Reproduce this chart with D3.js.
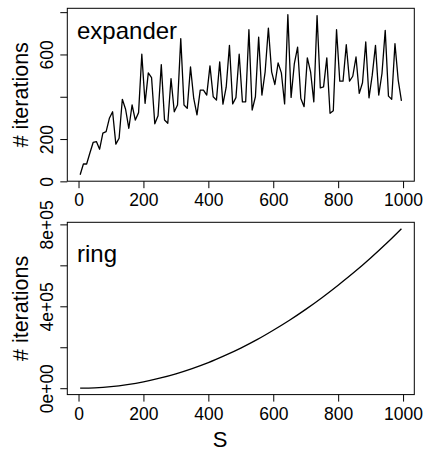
<!DOCTYPE html>
<html>
<head>
<meta charset="utf-8">
<script src="https://cdn.jsdelivr.net/npm/d3@7"></script>
<style>
  body { margin: 0; background: #fff; }
  svg { display: block; font-family: "Liberation Sans", Arial, Helvetica, sans-serif; }
</style>
</head>
<body>
<svg id="chart" width="424" height="452"></svg>
<script>
// Iterations needed per network size S, for two graph families.

// x positions (network size S) of the expander series
var sValues = d3.range(5, 1000, 10);

// expander: # iterations, one per S value
var expanderIters = [
  31, 82, 82, 134, 184, 188, 152, 228, 235, 298,
  329, 176, 204, 388, 341, 251, 361, 290, 325, 601,
  369, 513, 491, 272, 310, 552, 290, 275, 486, 329,
  361, 675, 361, 345, 541, 392, 314, 431, 431, 408,
  546, 400, 384, 565, 365, 445, 643, 366, 396, 601,
  376, 376, 717, 337, 400, 682, 408, 518, 725, 518,
  458, 560, 513, 366, 788, 397, 557, 635, 392, 353,
  584, 518, 376, 784, 442, 447, 584, 322, 334, 717,
  474, 474, 646, 474, 497, 588, 416, 466, 659, 395,
  502, 643, 408, 510, 714, 403, 388, 651, 479, 381
];

// ring: sizes and # iterations
var ringS = [5, 50, 100, 150, 200, 250, 300, 350, 400, 450, 500,
             550, 600, 650, 700, 750, 800, 850, 900, 950, 995];
var ringIters = [0, 2000, 7800, 17600, 31000, 49000, 70500, 96000, 125000, 159000, 196000,
                 237000, 283000, 332000, 385000, 442000, 503000, 567000, 636000, 709000, 779000];

// tick values and labels
var xTicks = [0, 200, 400, 600, 800, 1000];
var expanderYTicks = [0, 200, 400, 600, 800];
var expanderYLabels = ["0", "200", "", "600", ""];
var ringYTicks = [0, 200000, 400000, 600000, 800000];
var ringYLabels = ["0e+00", "", "4e+05", "", "8e+05"];

var svg = d3.select("#chart");
var left = 67.3, right = 414.3;

// R style range: data extent padded by 4% on each side
function padded (ext) {
    var d = (ext[1] - ext[0]) * 0.04;
    return [ext[0] - d, ext[1] + d];
}

var x = d3.scaleLinear().domain(padded(d3.extent(sValues))).range([left, right]);

function drawPanel (top, bottom, xs, ys, yTicks, yLabels, title, titleY) {
    var y = d3.scaleLinear().domain(padded(d3.extent(ys))).range([bottom, top]);
    var g = svg.append("g");

    // box
    g.append("rect")
        .attr("x", left).attr("y", top)
        .attr("width", right - left).attr("height", bottom - top)
        .attr("fill", "none").attr("stroke", "#000").attr("stroke-width", 1);

    // x axis
    var xa = g.append("g")
        .attr("transform", "translate(0," + bottom + ")")
        .call(d3.axisBottom(x).tickValues(xTicks).tickSize(7).tickSizeOuter(0).tickFormat(d3.format("d")));
    xa.select(".domain").remove();
    xa.selectAll(".tick line").attr("stroke", "#000");
    xa.selectAll(".tick text")
        .attr("y", 25).attr("dy", 0)
        .attr("font-size", 17.5).attr("fill", "#000");

    // y axis, labels turned to read upwards
    var ya = g.append("g")
        .attr("transform", "translate(" + left + ",0)")
        .call(d3.axisLeft(y).tickValues(yTicks).tickSize(7).tickSizeOuter(0)
            .tickFormat(function (d, i) { return yLabels[i]; }));
    ya.select(".domain").remove();
    ya.selectAll(".tick line").attr("stroke", "#000");
    ya.selectAll(".tick text")
        .attr("transform", "rotate(-90)")
        .attr("x", 0).attr("y", -14).attr("dy", 0)
        .attr("text-anchor", "middle")
        .attr("font-size", 17.5).attr("fill", "#000");

    // series
    var line = d3.line()
        .x(function (d) { return x(d[0]); })
        .y(function (d) { return y(d[1]); });
    if (xs.length < 50) line.curve(d3.curveMonotoneX);
    g.append("path")
        .datum(xs.map(function (s, i) { return [s, ys[i]]; }))
        .attr("d", line)
        .attr("fill", "none").attr("stroke", "#000")
        .attr("stroke-width", 1.3).attr("stroke-linejoin", "round");

    // panel title
    g.append("text")
        .attr("x", 77).attr("y", titleY)
        .attr("font-size", 24).text(title);

    // y title
    g.append("text")
        .attr("transform", "translate(28," + ((top + bottom) / 2) + ") rotate(-90)")
        .attr("text-anchor", "middle")
        .attr("font-size", 21.5).text("# iterations");
}

drawPanel(8.3, 181.2, sValues, expanderIters, expanderYTicks, expanderYLabels, "expander", 39.3);
drawPanel(222.3, 394.6, ringS, ringIters, ringYTicks, ringYLabels, "ring", 261.7);

// x title
svg.append("text")
    .attr("x", 220).attr("y", 446.5)
    .attr("text-anchor", "middle")
    .attr("font-size", 22).text("S");
</script>
</body>
</html>
